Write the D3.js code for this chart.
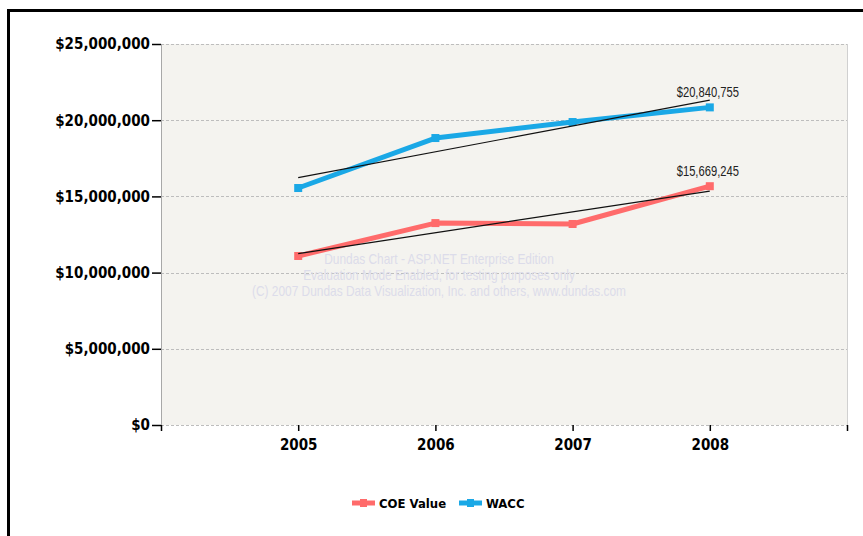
<!DOCTYPE html>
<html>
<head>
<meta charset="utf-8">
<script src="https://cdn.jsdelivr.net/npm/d3@7"></script>
<style>
  body { margin: 0; background: #fff; }
  svg { display: block; }
  .axisLabel { font-family: "DejaVu Sans Condensed", "DejaVu Sans"; font-weight: bold; font-size: 15px; fill: #000; }
  .legendLabel { font-family: "DejaVu Sans Condensed", "DejaVu Sans"; font-weight: bold; font-size: 13px; fill: #000; }
  .pointLabel { font-family: "Liberation Sans", Arial; font-size: 14px; fill: #222; }
  .watermark { font-family: "Liberation Sans", Arial; font-size: 14px; fill: #dcdcea; }
</style>
</head>
<body>
<script>
var years = [2005, 2006, 2007, 2008];
var coeValues = [11090000, 13250000, 13190000, 15669245];
var waccValues = [15550000, 18830000, 19880000, 20840755];
var yTicks = [0, 5000000, 10000000, 15000000, 20000000, 25000000];
var seriesNames = ["COE Value", "WACC"];
var seriesColors = ["#ff6b6b", "#1aa8e6"];
var watermarkLines = [
    "Dundas Chart - ASP.NET Enterprise Edition",
    "Evaluation Mode Enabled, for testing purposes only",
    "(C) 2007 Dundas Data Visualization, Inc. and others, www.dundas.com"
];

window.onload = setChart;

function setChart() {

    var width = 863,
        height = 536;

    var left = 161, right = 847, top = 44, bottom = 425;
    var narrow = 0.85; // no narrow font installed, squeeze horizontally

    var svg = d3.select("body")
        .append("svg")
        .attr("width", width)
        .attr("height", height);

    // outer frame (right/bottom edges run off the picture)
    svg.append("rect")
        .attr("x", 8.5).attr("y", 10.5)
        .attr("width", 900).attr("height", 600)
        .attr("fill", "none")
        .attr("stroke", "#000")
        .attr("stroke-width", 3);

    var x = d3.scaleLinear()
        .domain([2004, 2009])
        .range([left, right]);

    var y = d3.scaleLinear()
        .domain([0, 25000000])
        .range([bottom, top]);

    // plot background
    svg.append("rect")
        .attr("x", left).attr("y", top)
        .attr("width", right - left).attr("height", bottom - top)
        .attr("fill", "#f4f3ef");

    // gridlines
    svg.selectAll(".grid")
        .data(yTicks)
        .enter().append("line")
        .attr("class", "grid")
        .attr("x1", left).attr("x2", right)
        .attr("y1", function(d){ return Math.round(y(d)) + 0.5; })
        .attr("y2", function(d){ return Math.round(y(d)) + 0.5; })
        .attr("stroke", "#bdbdbd")
        .attr("stroke-dasharray", "3,2");

    // plot edges
    svg.append("line")
        .attr("x1", left + 0.5).attr("x2", left + 0.5)
        .attr("y1", top).attr("y2", bottom)
        .attr("stroke", "#a8a8a8");
    svg.append("line")
        .attr("x1", right + 0.5).attr("x2", right + 0.5)
        .attr("y1", top).attr("y2", bottom)
        .attr("stroke", "#d0d0d0");

    // y axis
    var yAxis = d3.axisLeft(y)
        .tickValues(yTicks)
        .tickSize(9)
        .tickPadding(2)
        .tickFormat(function(d){ return "$" + d3.format(",")(d); });

    var gy = svg.append("g")
        .attr("transform", "translate(" + left + ",0)")
        .call(yAxis);
    gy.select(".domain").remove();
    gy.selectAll(".tick line").attr("stroke", "#000").attr("stroke-width", 1.5);
    gy.selectAll(".tick text")
        .attr("class", "axisLabel")
        .attr("fill", null)
        .attr("font-family", null).attr("font-size", null);

    // x axis
    var xAxis = d3.axisBottom(x)
        .tickValues([2004, 2005, 2006, 2007, 2008, 2009])
        .tickSize(6)
        .tickPadding(8)
        .tickFormat(function(d){ return years.indexOf(d) >= 0 ? String(d) : ""; });

    var gx = svg.append("g")
        .attr("transform", "translate(0," + bottom + ")")
        .call(xAxis);
    gx.select(".domain").remove();
    gx.selectAll(".tick line").attr("stroke", "#000").attr("stroke-width", 1.5);
    gx.selectAll(".tick text")
        .attr("class", "axisLabel")
        .attr("fill", null)
        .attr("font-family", null).attr("font-size", null);

    // watermark
    svg.selectAll(".watermark")
        .data(watermarkLines)
        .enter().append("text")
        .attr("class", "watermark")
        .attr("transform", function(d, i){
            return "translate(439," + (264 + i * 16) + ") scale(" + narrow + ",1)";
        })
        .attr("text-anchor", "middle")
        .text(function(d){ return d; });

    var series = [coeValues, waccValues];

    var line = d3.line()
        .x(function(d, i){ return x(years[i]); })
        .y(function(d){ return y(d); });

    series.forEach(function(vals, s){
        svg.append("path")
            .datum(vals)
            .attr("d", line)
            .attr("fill", "none")
            .attr("stroke", seriesColors[s])
            .attr("stroke-width", 5)
            .attr("stroke-linejoin", "round");

        svg.selectAll(".marker" + s)
            .data(vals)
            .enter().append("rect")
            .attr("class", "marker" + s)
            .attr("x", function(d, i){ return x(years[i]) - 4; })
            .attr("y", function(d){ return y(d) - 4; })
            .attr("width", 8).attr("height", 8)
            .attr("fill", seriesColors[s]);
    });

    // linear trend lines
    series.forEach(function(vals){
        var fit = trend(years, vals);
        svg.append("line")
            .attr("x1", x(years[0])).attr("y1", y(fit(years[0])))
            .attr("x2", x(years[years.length - 1])).attr("y2", y(fit(years[years.length - 1])))
            .attr("stroke", "#111")
            .attr("stroke-width", 1.2);
    });

    // labels on last point
    series.forEach(function(vals){
        var last = vals.length - 1;
        svg.append("text")
            .attr("class", "pointLabel")
            .attr("transform", "translate(" + (x(years[last]) - 2) + "," + (y(vals[last]) - 10) + ") scale(0.8,1)")
            .attr("text-anchor", "middle")
            .text("$" + d3.format(",")(vals[last]));
    });

    createLegend(svg);
}

function trend(xs, ys){
    var mx = d3.mean(xs), my = d3.mean(ys);
    var num = 0, den = 0;
    for (var i = 0; i < xs.length; i++){
        num += (xs[i] - mx) * (ys[i] - my);
        den += (xs[i] - mx) * (xs[i] - mx);
    }
    var slope = num / den;
    return function(v){ return my + slope * (v - mx); };
}

function createLegend(svg){
    var items = [
        { name: seriesNames[0], color: seriesColors[0], x: 352 },
        { name: seriesNames[1], color: seriesColors[1], x: 459 }
    ];
    var ly = 503;

    var g = svg.selectAll(".legend")
        .data(items)
        .enter().append("g")
        .attr("class", "legend")
        .attr("transform", function(d){ return "translate(" + d.x + "," + ly + ")"; });

    g.append("line")
        .attr("x1", 0).attr("x2", 23)
        .attr("stroke", function(d){ return d.color; })
        .attr("stroke-width", 5);
    g.append("rect")
        .attr("x", 8).attr("y", -4)
        .attr("width", 7).attr("height", 8)
        .attr("fill", function(d){ return d.color; });
    g.append("text")
        .attr("class", "legendLabel")
        .attr("x", 27)
        .attr("y", 5)
        .text(function(d){ return d.name; });
}
</script>
</body>
</html>
